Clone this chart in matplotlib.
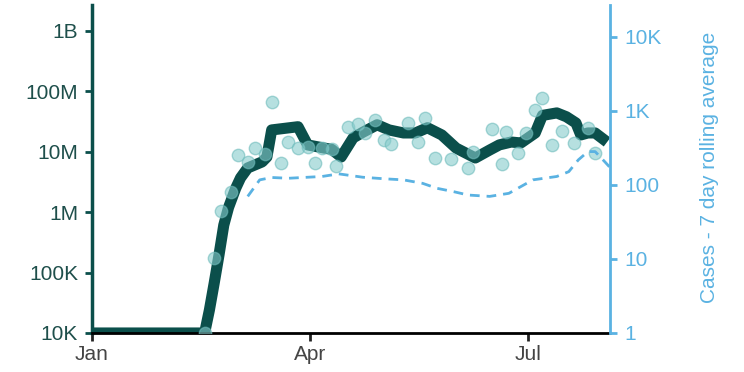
import numpy as np
import pandas as pd
import matplotlib
matplotlib.use("Agg")
from matplotlib import pyplot as plt

plt.rcParams['font.family'] = ['Liberation Sans', 'DejaVu Sans']

# spending, weekly-ish line (left axis)
line_dates = ["2020-01-01", "2020-02-17", "2020-02-19", "2020-02-21", "2020-02-23",
              "2020-02-25", "2020-02-27", "2020-03-01", "2020-03-03", "2020-03-06",
              "2020-03-12", "2020-03-14", "2020-03-16", "2020-03-27", "2020-03-31",
              "2020-04-07", "2020-04-10", "2020-04-14", "2020-04-19", "2020-04-23",
              "2020-04-29", "2020-05-04", "2020-05-10", "2020-05-15", "2020-05-20",
              "2020-05-26", "2020-06-01", "2020-06-09", "2020-06-15", "2020-06-19",
              "2020-06-24", "2020-06-28", "2020-07-04", "2020-07-07", "2020-07-13",
              "2020-07-17", "2020-07-21", "2020-07-23", "2020-07-26", "2020-07-29",
              "2020-08-03"]
line_vals = [1.0e4, 1.0e4, 2.4e4, 6.7e4, 1.95e5,
             6.1e5, 1.2e6, 2.5e6, 3.7e6, 5.4e6,
             6.8e6, 8.2e6, 2.3e7, 2.6e7, 1.3e7,
             1.15e7, 1.1e7, 8.2e6, 1.7e7, 2.1e7,
             2.8e7, 2.3e7, 2.05e7, 2.05e7, 2.5e7,
             1.9e7, 1.15e7, 7.9e6, 1.07e7, 1.3e7,
             1.45e7, 1.4e7, 2.05e7, 4.0e7, 4.4e7,
             3.8e7, 3.0e7, 1.9e7, 2.05e7, 2.05e7,
             1.45e7]

# daily points (left axis)
pt_dates = ["2020-02-17", "2020-02-21", "2020-02-24", "2020-02-28", "2020-03-02",
            "2020-03-06", "2020-03-09", "2020-03-13", "2020-03-16", "2020-03-20",
            "2020-03-23", "2020-03-27", "2020-03-31", "2020-04-03", "2020-04-06",
            "2020-04-10", "2020-04-12", "2020-04-17", "2020-04-21", "2020-04-24",
            "2020-04-28", "2020-05-02", "2020-05-05", "2020-05-12", "2020-05-16",
            "2020-05-19", "2020-05-23", "2020-05-30", "2020-06-06", "2020-06-08",
            "2020-06-16", "2020-06-20", "2020-06-22", "2020-06-27", "2020-06-30",
            "2020-07-04", "2020-07-07", "2020-07-11", "2020-07-15", "2020-07-20",
            "2020-07-26", "2020-07-29"]
pt_vals = [1.0e4, 1.75e5, 1.05e6, 2.2e6, 8.85e6,
           6.8e6, 1.17e7, 9.2e6, 6.7e7, 6.4e6,
           1.43e7, 1.16e7, 1.21e7, 6.45e6, 1.16e7,
           1.11e7, 5.9e6, 2.57e7, 2.89e7, 2.02e7,
           3.36e7, 1.57e7, 1.35e7, 2.94e7, 1.47e7,
           3.59e7, 7.8e6, 7.5e6, 5.4e6, 1.0e7,
           2.4e7, 6.35e6, 2.15e7, 9.7e6, 2.05e7,
           4.9e7, 7.7e7, 1.3e7, 2.25e7, 1.38e7,
           2.45e7, 9.7e6]

# cases, 7 day rolling average (right axis)
case_dates = ["2020-03-06", "2020-03-11", "2020-03-16", "2020-03-23", "2020-04-06",
              "2020-04-13", "2020-04-23", "2020-05-02", "2020-05-10", "2020-05-18",
              "2020-05-24", "2020-05-31", "2020-06-06", "2020-06-15", "2020-06-23",
              "2020-07-03", "2020-07-13", "2020-07-18", "2020-07-22", "2020-07-26",
              "2020-07-29", "2020-08-02", "2020-08-04"]
case_vals = [70, 117, 126, 123, 130,
             141, 127, 121, 117, 105,
             90, 81, 73, 70, 77,
             117, 130, 151, 218, 282,
             282, 206, 175]

left_ticks = [1e4, 1e5, 1e6, 1e7, 1e8, 1e9]
left_labels = ["10K", "100K", "1M", "10M", "100M", "1B"]
right_ticks = [1, 10, 100, 1e3, 1e4]
right_labels = ["1", "10", "100", "1K", "10K"]
x_ticks = ["2020-01-01", "2020-04-01", "2020-07-01"]
x_labels = ["Jan", "Apr", "Jul"]

dark = "#0b4f4b"
blue = "#5ab2e2"

fig = plt.figure(figsize=(7.44, 3.72), dpi=100)
ax = fig.add_axes([92/744, 39/372, 518/744, 328/372])
ax2 = ax.twinx()

ax.plot(pd.to_datetime(line_dates), line_vals, color=dark, lw=8,
        solid_joinstyle='round', solid_capstyle='butt', zorder=2)
ax.scatter(pd.to_datetime(pt_dates), pt_vals, s=80, color="#86cccc",
           alpha=0.6, edgecolors="#6fbcbc", linewidths=1, zorder=3)
ax2.plot(pd.to_datetime(case_dates), case_vals, color=blue, lw=2,
         linestyle=(0, (3.5, 2.5)))

ax.set_yscale('log')
ax.set_ylim(1e4, 10**9.43)
ax2.set_yscale('log')
ax2.set_ylim(1, 10**4.43)
ax.set_xlim(pd.Timestamp("2020-01-01"), pd.Timestamp("2020-08-04 05:00"))

ax.set_yticks(left_ticks)
ax.set_yticklabels(left_labels)
ax.yaxis.set_minor_locator(matplotlib.ticker.NullLocator())
ax2.set_yticks(right_ticks)
ax2.set_yticklabels(right_labels)
ax2.yaxis.set_minor_locator(matplotlib.ticker.NullLocator())
ax.set_xticks(pd.to_datetime(x_ticks))
ax.set_xticklabels(x_labels)

for a in (ax, ax2):
    a.spines['top'].set_visible(False)
ax.spines['right'].set_visible(False)
ax2.spines['left'].set_visible(False)
ax2.spines['bottom'].set_visible(False)
ax.spines['left'].set_color(dark)
ax.spines['left'].set_linewidth(2.5)
ax.spines['bottom'].set_color("black")
ax.spines['bottom'].set_linewidth(2)
ax2.spines['right'].set_color(blue)
ax2.spines['right'].set_linewidth(2)

ax.tick_params(axis='y', colors=dark, labelsize=15, length=5, width=2, pad=5)
ax.tick_params(axis='y', labelcolor="#1e4f4b")
ax.tick_params(axis='x', colors="#222222", labelcolor="#444444", labelsize=15,
               length=6, width=2, pad=3)
ax2.tick_params(axis='y', colors=blue, labelsize=15, length=5, width=2, pad=5)

ax2.set_ylabel("Cases - 7 day rolling average", color=blue, fontsize=15)
ax2.yaxis.set_label_coords(1.174, 0.505)

fig.savefig("out.png", dpi=100)
